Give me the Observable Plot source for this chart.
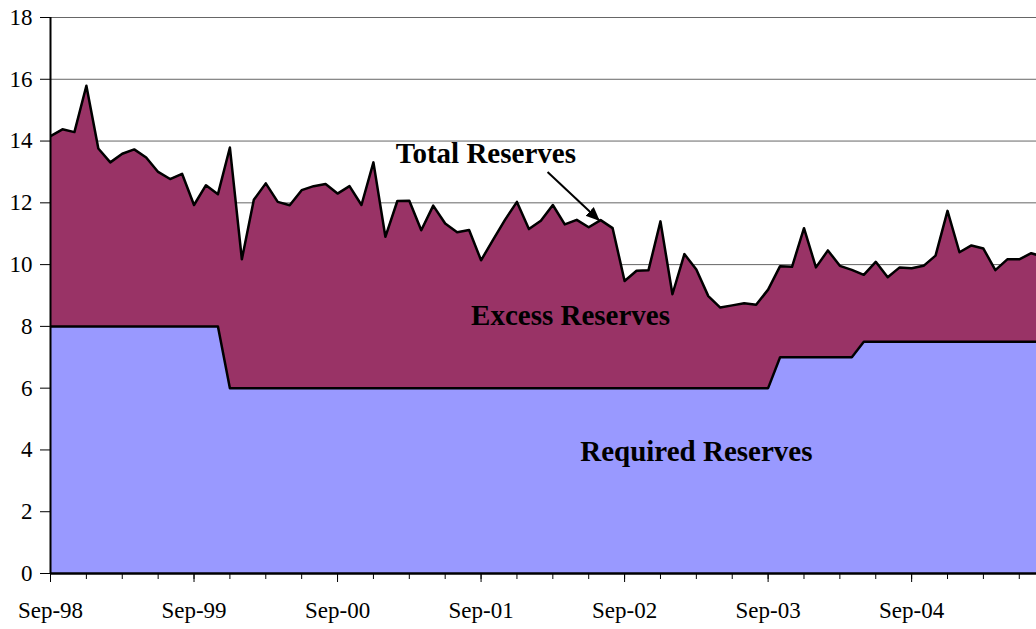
<!DOCTYPE html>
<html><head><meta charset="utf-8">
<script src="https://cdn.jsdelivr.net/npm/d3@7"></script>
<script src="https://cdn.jsdelivr.net/npm/@observablehq/plot@0.6"></script>
<style>
body{margin:0;background:#fff;}
svg{display:block;}
svg text{font-family:'Liberation Serif','Times New Roman',serif !important;}
</style>
</head><body><div id="chart"></div>
<script>
// Monthly values, starting Sep-98 (index 0)
const totalReserves = [
  14.16, 14.38, 14.29, 15.79, 13.76, 13.31, 13.59, 13.73, 13.47, 13.00, 12.77, 12.94,
  11.93, 12.57, 12.28, 13.79, 10.17, 12.10, 12.63, 12.03, 11.92, 12.41, 12.54, 12.61,
  12.30, 12.54, 11.93, 13.31, 10.90, 12.06, 12.07, 11.11, 11.91, 11.33, 11.05, 11.12,
  10.14, 10.80, 11.45, 12.03, 11.15, 11.42, 11.93, 11.30, 11.45, 11.21, 11.44, 11.18,
  9.47, 9.80, 9.82, 11.40, 9.04, 10.34, 9.84, 8.98, 8.61, 8.68, 8.75, 8.70,
  9.19, 9.95, 9.93, 11.18, 9.91, 10.46, 9.96, 9.83, 9.67, 10.09, 9.59, 9.91,
  9.88, 9.96, 10.29, 11.74, 10.40, 10.62, 10.52, 9.82, 10.17, 10.17, 10.37, 10.25
];
const requiredReserves = [
  8, 8, 8, 8, 8, 8, 8, 8, 8, 8, 8, 8,
  8, 8, 8, 6, 6, 6, 6, 6, 6, 6, 6, 6,
  6, 6, 6, 6, 6, 6, 6, 6, 6, 6, 6, 6,
  6, 6, 6, 6, 6, 6, 6, 6, 6, 6, 6, 6,
  6, 6, 6, 6, 6, 6, 6, 6, 6, 6, 6, 6,
  6, 7, 7, 7, 7, 7, 7, 7, 7.5, 7.5, 7.5, 7.5,
  7.5, 7.5, 7.5, 7.5, 7.5, 7.5, 7.5, 7.5, 7.5, 7.5, 7.5, 7.5
];
const xTickLabels = ["Sep-98", "Sep-99", "Sep-00", "Sep-01", "Sep-02", "Sep-03", "Sep-04"];
const yTicks = [0, 2, 4, 6, 8, 10, 12, 14, 16, 18];

const data = totalReserves.map((t, i) => ({m: i, total: t, required: requiredReserves[i]}));
const majorTicks = xTickLabels.map((_, i) => i * 12);
const minorTicks = d3.range(0, 83, 3);

const serif = "'Liberation Serif', 'Times New Roman', serif";

function solidArrow(color, context) {
  const m = d3.select(context.document.createElementNS("http://www.w3.org/2000/svg", "marker"));
  m.attr("viewBox", "-14 -7 14 14")
   .attr("markerWidth", 14).attr("markerHeight", 14)
   .attr("markerUnits", "userSpaceOnUse")
   .attr("orient", "auto")
   .attr("refX", 0).attr("refY", 0)
   .attr("fill", color).attr("stroke", "none");
  m.append("path").attr("d", "M-14,-6L0,0L-14,6Z");
  return m.node();
}

const chart = Plot.plot({
  width: 1036,
  height: 629,
  marginLeft: 50,
  marginRight: 0,
  marginTop: 17,
  marginBottom: 56,
  style: {fontFamily: serif, fontSize: "23px", color: "black", background: "white"},
  x: {domain: [0, 82.44], axis: null},
  y: {domain: [0, 18], axis: null},
  marks: [
    Plot.ruleY(yTicks.slice(1), {stroke: "#666", strokeWidth: 1}),
    Plot.areaY(data, {x: "m", y1: "required", y2: "total", fill: "#993366", clip: true}),
    Plot.areaY(data, {x: "m", y1: 0, y2: "required", fill: "#9999FF", clip: true}),
    Plot.line(data, {x: "m", y: "total", stroke: "black", strokeWidth: 2.5, clip: true}),
    Plot.line(data, {x: "m", y: "required", stroke: "black", strokeWidth: 2.5, clip: true}),
    Plot.ruleX([0], {stroke: "black", strokeWidth: 2}),
    Plot.ruleY([0], {stroke: "black", strokeWidth: 2.5}),
    Plot.axisY(yTicks, {tickSize: 10, tickPadding: 8, fontSize: 23, fontFamily: serif, label: null}),
    Plot.axisX(minorTicks, {tickSize: 6, tickFormat: () => "", label: null}),
    Plot.axisX(majorTicks, {tickSize: 9, tickPadding: 19, fontSize: 23, fontFamily: serif, label: null,
      tickFormat: (d) => xTickLabels[d / 12]}),
    Plot.text(["Total Reserves"], {x: 36.4, y: 13.59, fontSize: 29, fontWeight: "bold", fontFamily: serif, fill: "black"}),
    Plot.text(["Excess Reserves"], {x: 43.48, y: 8.35, fontSize: 29, fontWeight: "bold", fontFamily: serif, fill: "black"}),
    Plot.text(["Required Reserves"], {x: 54.0, y: 3.94, fontSize: 29, fontWeight: "bold", fontFamily: serif, fill: "black"}),
    Plot.link([0], {x1: 41.56, y1: 13.0, x2: 45.93, y2: 11.41, stroke: "black", strokeWidth: 2, markerEnd: solidArrow})
  ]
});
document.getElementById("chart").appendChild(chart);
</script>
</body></html>
